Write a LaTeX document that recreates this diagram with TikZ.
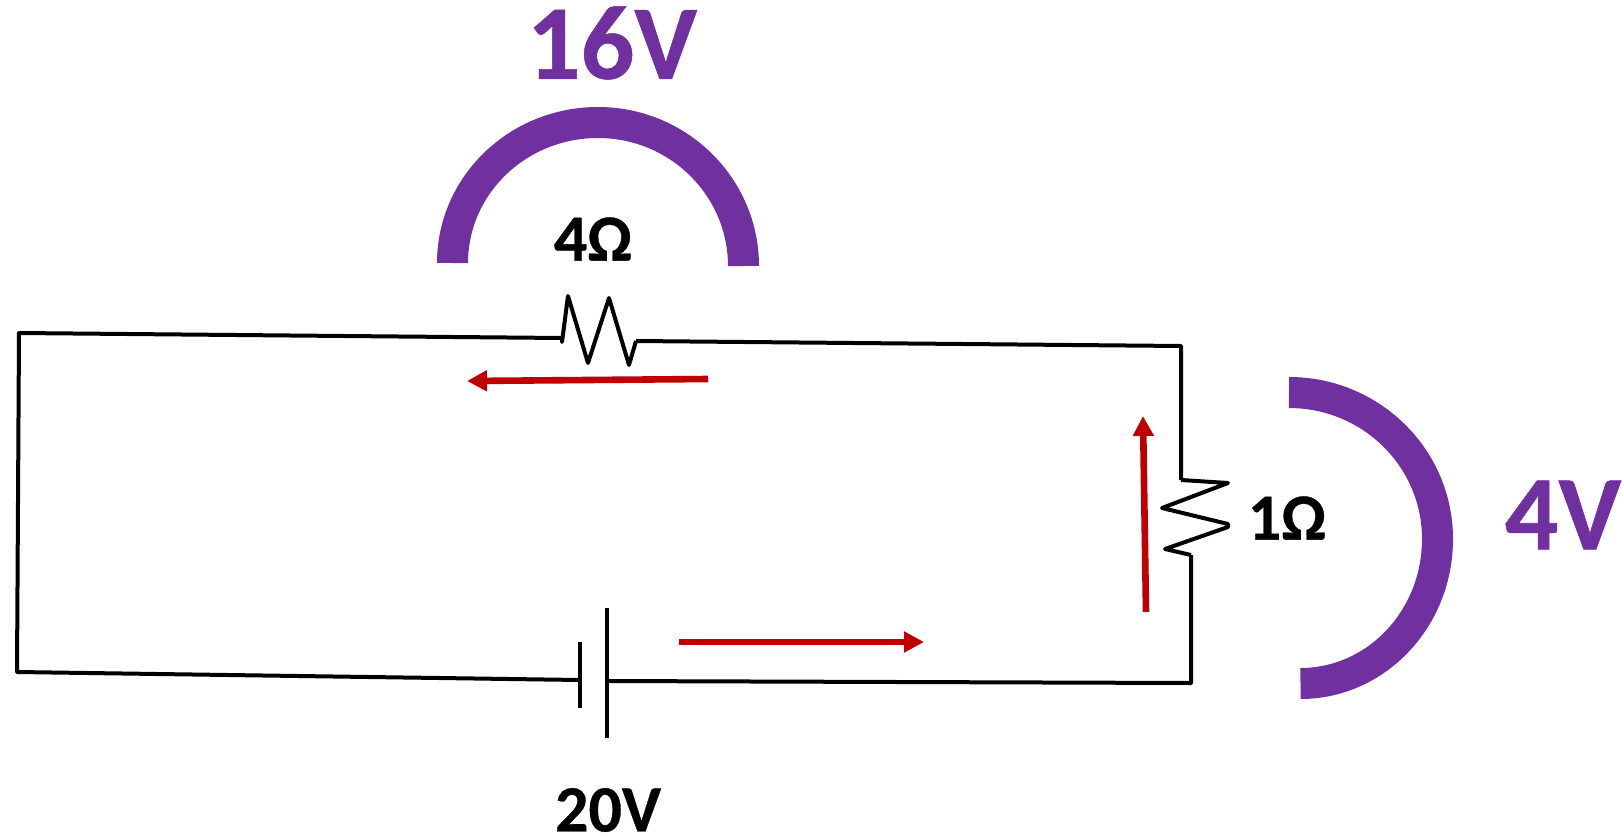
\documentclass[tikz,border=0pt]{standalone}
\usepackage{fontspec}
\setmainfont[BoldFeatures={FakeBold=0.5}]{Carlito}
\usetikzlibrary{arrows.meta}
\definecolor{vpurple}{HTML}{7030A0}
\definecolor{cred}{HTML}{C00000}
\tikzset{
  wire/.style={draw=black,line width=2pt,line join=round},
  plate/.style={draw=black,line width=2pt},
  vbow/.style={draw=vpurple,line width=15.5pt},
  current/.style={draw=cred,line width=3.3pt,-{Triangle[length=10pt,width=10pt]}},
  biglabel/.style={inner sep=0pt,text=vpurple,font=\fontsize{53}{60}\selectfont\bfseries},
  smalllabel/.style={inner sep=0pt,text=black,font=\fontsize{33}{40}\selectfont\bfseries}
}
\begin{document}
\begin{tikzpicture}[x=0.5pt,y=-0.5pt]
\useasboundingbox (0,0) rectangle (1622,835);
% corners and terminals
\coordinate (tl) at (19,333);
\coordinate (bl) at (17,672);
\coordinate (r4a) at (562,338);
\coordinate (r4z) at (636,341);
\coordinate (tr) at (1181,346);
\coordinate (r1a) at (1181,480);
\coordinate (r1z) at (1191,555);
\coordinate (br) at (1191,683);
\coordinate (batl) at (580,680);
\coordinate (batr) at (607,681);
% battery plates
\coordinate (pa) at (580,642); \coordinate (pb) at (580,708);
\coordinate (pc) at (607,608); \coordinate (pd) at (607,738);
% wires
\draw[wire] (batl) -- (bl) -- (tl) -- (r4a);
\draw[wire] (r4a) -- (562,342) -- (568,296) -- (588,363) -- (609,298) -- (629,365) -- (r4z);
\draw[wire] (r4z) -- (tr) -- (r1a);
\draw[wire] (r1a) -- (1228,483) -- (1162,508) -- (1228,524) -- (1228,527) -- (1165,549) -- (r1z);
\draw[wire] (r1z) -- (br) -- (batr);
\draw[plate] (pa) -- (pb);
\draw[plate] (pc) -- (pd);
% voltage bows
\draw[vbow] (452.5,263) .. controls (452.5,185.4) and (517.6,122.5) .. (598,122.5)
            .. controls (678.4,122.5) and (743.5,187) .. (743.5,266);
\draw[vbow] (1289,392.5) .. controls (1371,392.5) and (1437.5,458) .. (1437.5,539)
            .. controls (1437.5,619) and (1376,683.5) .. (1300.5,683.5);
% current arrows
\coordinate (c1s) at (708,379); \coordinate (c1e) at (467,381);
\coordinate (c2s) at (1146,612); \coordinate (c2e) at (1143,416);
\coordinate (c3s) at (679,642); \coordinate (c3e) at (924,642);
\draw[current] (c1s) -- (c1e);
\draw[current] (c2s) -- (c2e);
\draw[current] (c3s) -- (c3e);
% labels
\node[biglabel] (v16) at (612,43) {16V};
\node[biglabel] (v4) at (1563,515) {4V};
\node[smalllabel] (o4) at (593,239) {4Ω};
\node[smalllabel] (o1) at (1287,518) {1Ω};
\node[smalllabel] (v20) at (608,810) {20V};
\end{tikzpicture}
\end{document}
